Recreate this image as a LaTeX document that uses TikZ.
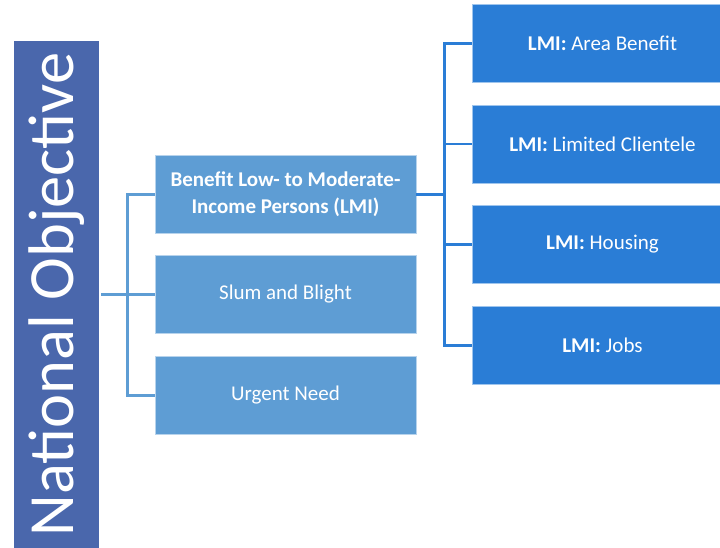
\documentclass[tikz,border=0pt]{standalone}
\usepackage{fontspec}
\setmainfont{Carlito}
\definecolor{barblue}{RGB}{74,103,172}
\definecolor{midblue}{RGB}{94,157,212}
\definecolor{lmiblue}{RGB}{42,125,214}
\tikzset{
  midbox/.style={rectangle,fill=midblue,draw=midblue!45!white,line width=0.8pt,
    minimum width=261pt,minimum height=78pt,text=white,align=center,
    font=\fontsize{21}{27}\selectfont},
  lmibox/.style={midbox,fill=lmiblue,draw=lmiblue!45!white},
  midline/.style={draw=midblue,line width=2.8pt},
  lmiline/.style={draw=lmiblue,line width=2.8pt}
}
\begin{document}
\begin{tikzpicture}[x=1pt,y=-1pt]
    \useasboundingbox (0,0) rectangle (720,548);
    \node[rectangle,fill=barblue,rotate=90,minimum width=507pt,minimum height=85pt,
      inner sep=0pt,text=white,font=\fontsize{64.5}{70}\selectfont] (nat) at (56.5,294.5) {\raisebox{-2pt}{National Objective}};
    \node[midbox] (lmi) at (285.5,194.5) {\textbf{Benefit Low- to Moderate-}\\\textbf{Income Persons (LMI)}};
    \node[midbox] (slum) at (285.5,294.5) {Slum and Blight};
    \node[midbox] (urgent) at (285.5,395.5) {Urgent Need};
    \node[lmibox] (area) at (602.5,43.5) {\textbf{LMI:} Area Benefit};
    \node[lmibox] (clientele) at (602.5,144) {\textbf{LMI:} Limited Clientele};
    \node[lmibox] (housing) at (602.5,244.5) {\textbf{LMI:} Housing};
    \node[lmibox] (jobs) at (602.5,345.5) {\textbf{LMI:} Jobs};
    \coordinate (jl) at ([xshift=28pt]nat.south);
    \coordinate (jr) at ([xshift=28pt]lmi.east);
    \draw[midline] ([xshift=2pt]nat.south) -- (jl);
    \foreach \n in {lmi,slum,urgent}
      \draw[midline] (jl) |- (\n.west);
    \draw[lmiline] (lmi.east) -- (jr);
    \foreach \n in {area,clientele,housing,jobs}
      \draw[lmiline] (jr) |- (\n.west);
  \end{tikzpicture}
\end{document}
